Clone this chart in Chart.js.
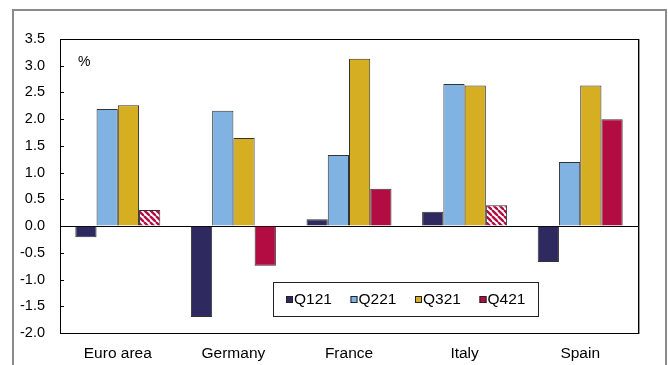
<!DOCTYPE html>
<html>
<head>
<meta charset="utf-8">
<script src="https://cdn.jsdelivr.net/npm/chart.js@4/dist/chart.umd.min.js"></script>
<style>
  html, body { margin: 0; padding: 0; background: #fff; }
  canvas { display: block; }
</style>
</head>
<body>
<canvas id="c" width="668" height="365"></canvas>
<script>
// Quarterly GDP growth by country, %
const countries = ['Euro area', 'Germany', 'France', 'Italy', 'Spain'];
const seriesNames = ['Q121', 'Q221', 'Q321', 'Q421'];
const q121 = [-0.21, -1.70, 0.13, 0.27, -0.67];
const q221 = [2.19, 2.16, 1.33, 2.66, 1.20];
const q321 = [2.26, 1.65, 3.13, 2.63, 2.63];
const q421 = [0.30, -0.74, 0.70, 0.39, 2.00];
// Q421 figures that are still estimates (drawn hatched)
const q421Estimate = [true, false, false, true, false];
const yTicks = [-2.0, -1.5, -1.0, -0.5, 0.0, 0.5, 1.0, 1.5, 2.0, 2.5, 3.0, 3.5];

const colors = ['#2E2A5F', '#80B3E1', '#D6AE22', '#B20C43'];
const FONT = 'Liberation Sans, Arial, sans-serif';

function hatch(color) {
  const s = 6;
  const t = document.createElement('canvas');
  t.width = s; t.height = s;
  const g = t.getContext('2d');
  g.fillStyle = '#fff';
  g.fillRect(0, 0, s, s);
  g.strokeStyle = color;
  g.lineWidth = 2.4;
  for (const k of [-s, 0, s]) {
    g.beginPath();
    g.moveTo(k, 0);
    g.lineTo(k + s, s);
    g.stroke();
  }
  return document.getElementById('c').getContext('2d').createPattern(t, 'repeat');
}
const q421Fill = q421Estimate.map(e => e ? hatch(colors[3]) : colors[3]);

const values = [q121, q221, q321, q421];
const datasets = seriesNames.map((name, i) => ({
  label: name,
  data: values[i],
  backgroundColor: i === 3 ? q421Fill : colors[i],
  borderColor: '#333',
  borderWidth: 1,
  borderSkipped: 'start',
  categoryPercentage: 0.735,
  barPercentage: 1.0
}));

// Frame, inward y ticks, unit label and inset legend
const decorations = {
  id: 'decorations',
  beforeDraw(chart) {
    const c = chart.ctx;
    c.save();
    c.fillStyle = '#fff';
    c.fillRect(0, 0, chart.width, chart.height);
    c.strokeStyle = '#8a8a8a';
    c.lineWidth = 2;
    c.beginPath();
    c.moveTo(13, chart.height);
    c.lineTo(13, 10);
    c.lineTo(666, 10);
    c.lineTo(666, chart.height);
    c.stroke();
    c.restore();
  },
  afterDatasetsDraw(chart) {
    const c = chart.ctx;
    const a = chart.chartArea;
    const y = chart.scales.y;
    c.save();
    // plot frame
    c.strokeStyle = '#000';
    c.lineWidth = 1;
    c.strokeRect(Math.round(a.left) + 0.5, Math.round(a.top) + 0.5,
                 Math.round(a.right - a.left), Math.round(a.bottom - a.top));
    c.strokeStyle = '#9a9a9a';
    c.beginPath();
    c.moveTo(Math.round(a.right) + 1.5, a.top);
    c.lineTo(Math.round(a.right) + 1.5, a.bottom + 1);
    c.stroke();
    // inward tick marks
    c.strokeStyle = '#000';
    y.ticks.forEach(t => {
      const py = Math.round(y.getPixelForValue(t.value)) + 0.5;
      c.beginPath();
      c.moveTo(a.left, py);
      c.lineTo(a.left + 4, py);
      c.stroke();
    });
    // unit
    c.fillStyle = '#000';
    c.font = '14px ' + FONT;
    c.textAlign = 'left';
    c.textBaseline = 'middle';
    c.fillText('%', a.left + 18, a.top + 23);
    // legend
    const lx = a.left + 213, ly = a.top + 243, lw = 265, lh = 34;
    c.fillStyle = '#fff';
    c.fillRect(lx, ly, lw, lh);
    c.strokeStyle = '#222';
    c.strokeRect(lx + 0.5, ly + 0.5, lw, lh);
    c.font = '15.5px ' + FONT;
    chart.data.datasets.forEach((ds, i) => {
      const ix = lx + 13 + i * 64.5;
      const cy = ly + 18;
      c.fillStyle = colors[i];
      c.fillRect(ix, cy - 4, 7, 7);
      c.strokeStyle = '#222';
      c.strokeRect(ix + 0.5, cy - 3.5, 6, 6);
      c.fillStyle = '#000';
      c.fillText(ds.label, ix + 8, cy);
    });
    c.restore();
  }
};

new Chart(document.getElementById('c'), {
  type: 'bar',
  data: { labels: countries, datasets },
  options: {
    responsive: false,
    animation: false,
    layout: { padding: { left: 0, top: 39, right: 30, bottom: 0 } },
    plugins: { legend: { display: false }, tooltip: { enabled: false } },
    scales: {
      x: {
        grid: { display: false, drawTicks: false },
        border: { display: false },
        ticks: { color: '#000', font: { family: FONT, size: 15.5 }, padding: 11, maxRotation: 0 },
        afterFit(s) { s.height = 32; }
      },
      y: {
        min: -2,
        max: 3.5,
        afterBuildTicks(s) { s.ticks = yTicks.map(v => ({ value: v })); },
        grid: {
          drawTicks: false,
          color: ctx => (ctx.tick && ctx.tick.value === 0 ? '#000' : 'rgba(0,0,0,0)'),
          lineWidth: 1
        },
        border: { display: false },
        ticks: {
          color: '#000',
          font: { family: FONT, size: 14.5 },
          padding: 15,
          callback: v => Number(v).toFixed(1)
        },
        afterFit(s) { s.width = 60; }
      }
    }
  },
  plugins: [decorations]
});
</script>
</body>
</html>
